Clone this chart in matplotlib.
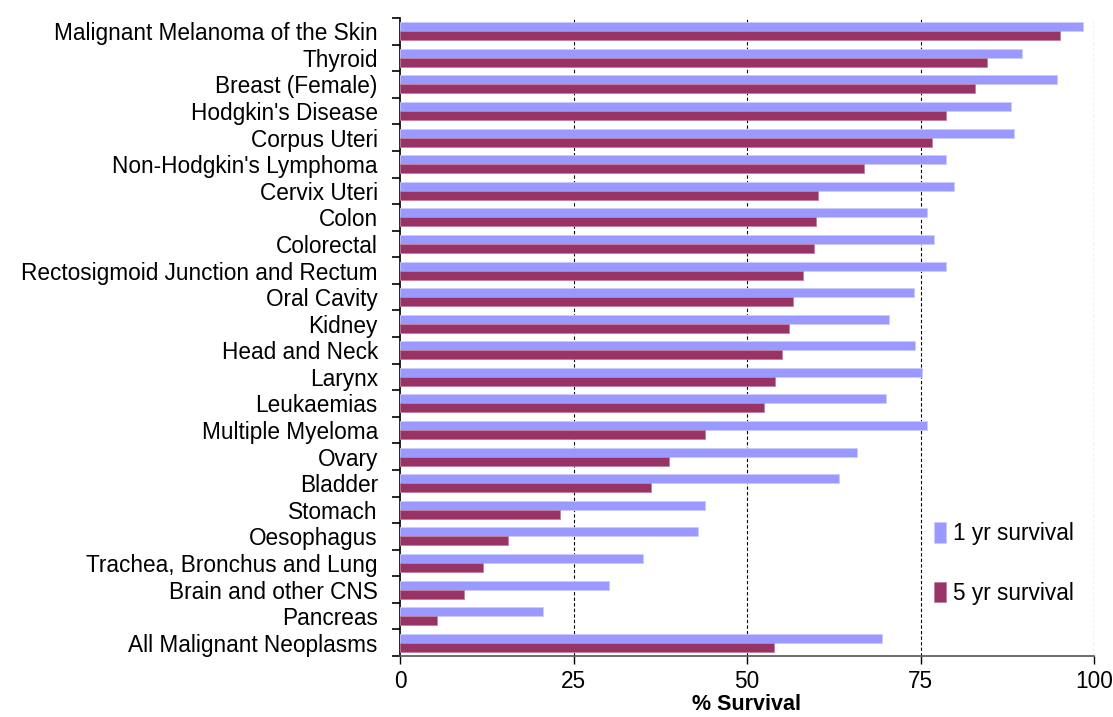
import numpy as np
import matplotlib.pyplot as plt
from matplotlib.ticker import FixedLocator

plt.rcParams['font.family'] = ['Liberation Sans', 'DejaVu Sans']

# Cancer sites, top to bottom as shown
sites = [
    'Malignant Melanoma of the Skin', 'Thyroid', 'Breast (Female)',
    "Hodgkin's Disease", 'Corpus Uteri', "Non-Hodgkin's Lymphoma",
    'Cervix Uteri', 'Colon', 'Colorectal', 'Rectosigmoid Junction and Rectum',
    'Oral Cavity', 'Kidney', 'Head and Neck', 'Larynx', 'Leukaemias',
    'Multiple Myeloma', 'Ovary', 'Bladder', 'Stomach', 'Oesophagus',
    'Trachea, Bronchus and Lung', 'Brain and other CNS', 'Pancreas',
    'All Malignant Neoplasms',
]
survival_1yr = [98.4, 89.6, 94.7, 88.1, 88.5, 78.7, 79.8, 76.0, 76.9, 78.7,
                74.0, 70.5, 74.2, 75.2, 70.0, 76.0, 65.8, 63.3, 43.9, 43.0,
                35.0, 30.1, 20.6, 69.4]
survival_5yr = [95.1, 84.6, 82.9, 78.7, 76.7, 66.8, 60.2, 59.9, 59.7, 58.1,
                56.6, 56.1, 55.0, 54.0, 52.4, 44.0, 38.7, 36.1, 23.1, 15.6,
                11.9, 9.2, 5.3, 53.9]

c1 = '#9999FF'
c5 = '#993366'

fig = plt.figure(figsize=(11.13, 7.17), dpi=100)
ax = fig.add_axes([400 / 1113, 1 - 656 / 717, 694 / 1113, 638 / 717])

n = len(sites)
y = np.arange(n)
h = 0.34
ax.barh(y - h / 2, survival_1yr, height=h, color=c1, edgecolor='#CCCCFF',
        linewidth=0.6, label='1 yr survival', zorder=3)
ax.barh(y + h / 2, survival_5yr, height=h, color=c5, edgecolor='#C080A0',
        linewidth=0.6, label='5 yr survival', zorder=3)

ax.set_ylim(n - 0.5, -0.5)
ax.set_xlim(0, 100)
ax.set_yticks(y)
ax.set_yticklabels(sites, fontsize=16.3)
ax.tick_params(axis='y', which='major', length=0, pad=16)
ax.yaxis.set_minor_locator(FixedLocator(np.arange(-0.5, n, 1.0)))
ax.tick_params(axis='y', which='minor', length=6, width=1.2, direction='out')

ax.set_xticks([0, 25, 50, 75, 100])
ax.set_xticklabels(['0', '25', '50', '75', '100'], fontsize=16.3)
ax.tick_params(axis='x', length=6, width=1, direction='out', pad=4)
for v in [25, 50, 75, 100]:
    ax.axvline(v, color='black', linestyle=(0, (3, 2)), linewidth=0.8, zorder=1)

ax.spines['top'].set_visible(False)
ax.spines['right'].set_visible(False)
ax.spines['left'].set_linewidth(1.2)
ax.spines['bottom'].set_linewidth(1.2)
ax.spines['bottom'].set_color('#555555')

ax.set_xlabel('% Survival', fontsize=15.5, fontweight='bold', labelpad=1)

ax.legend(loc='center left', bbox_to_anchor=(0.74, 0.145), frameon=False,
          fontsize=16.3, handlelength=0.55, handleheight=1.0, handletextpad=0.3,
          labelspacing=1.6)

fig.savefig('out.png', dpi=100)
